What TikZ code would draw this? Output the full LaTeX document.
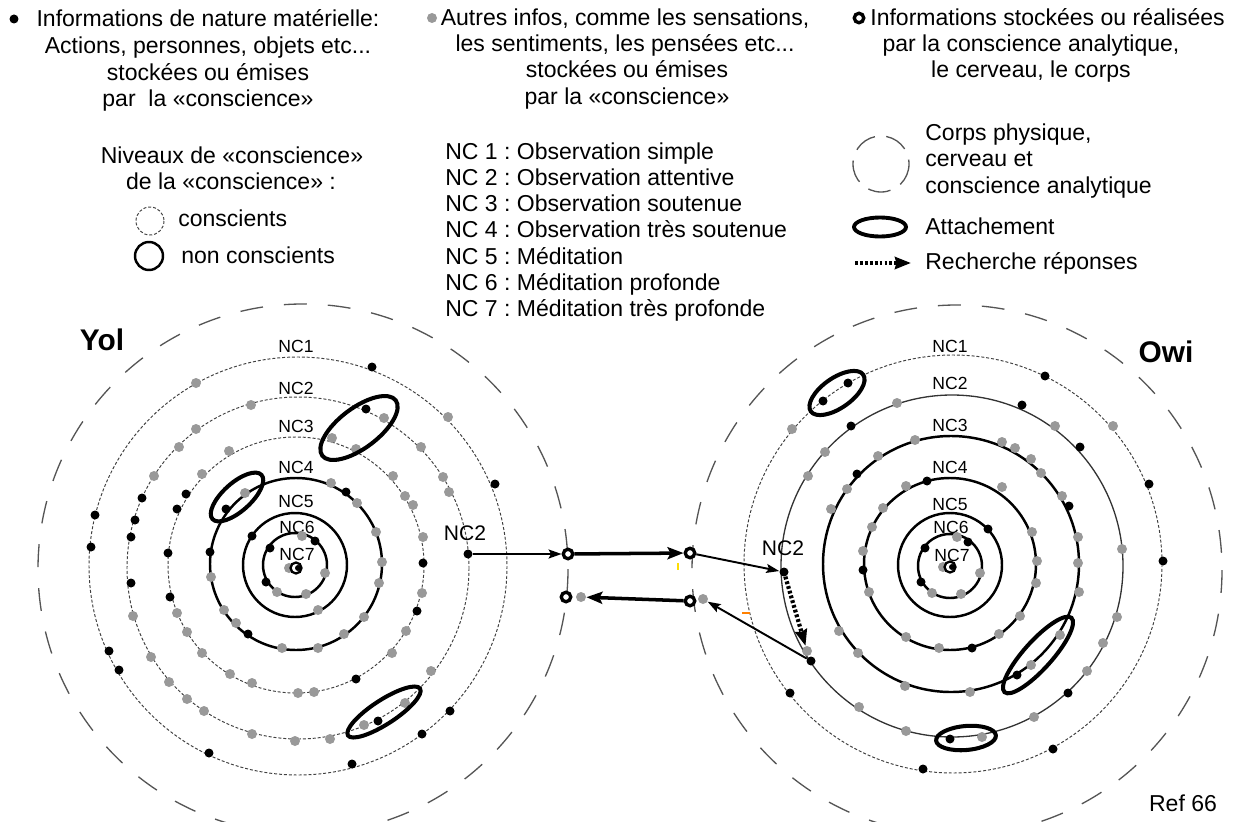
\documentclass[tikz,border=0pt]{standalone}
\usepackage{fontspec}
\setmainfont{Liberation Sans}
\usetikzlibrary{arrows.meta}
\definecolor{dotgray}{HTML}{999999}
\definecolor{linegray}{HTML}{404040}
\definecolor{bodygray}{HTML}{555555}
\newcommand\mainsz{\fontsize{13.1}{15}\selectfont}
\newcommand\levsz{\fontsize{10}{11}\selectfont}
\frenchspacing
\begin{document}
\begin{tikzpicture}[x=0.02cm, y=-0.02cm,
  txt/.style={inner sep=0pt, anchor=base, font=\mainsz},
  lev/.style={inner sep=0pt, font=\levsz},
  bdot/.style={circle, fill=black, inner sep=0pt, minimum size=0.18cm},
  gdot/.style={circle, fill=dotgray, inner sep=0pt, minimum size=0.2cm},
  ring/.style={circle, draw=black, fill=white, line width=1.9pt, inner sep=0pt, minimum size=0.19cm},
  lvdot/.style={draw=linegray, line width=0.55pt, dash pattern=on 1.7pt off 1.1pt},
  lvthin/.style={draw=black!80, line width=0.75pt},
  lvthick/.style={draw=black, line width=1.4pt},
  body/.style={draw=bodygray, line width=0.75pt, dash pattern=on 13pt off 12pt},
  attach/.style={draw=black, line width=2.3pt},
  thinarrow/.style={-{Stealth[length=0.26cm, width=0.18cm, inset=0.05cm]}, line width=1.1pt},
  thickarrow/.style={-{Stealth[length=0.32cm, width=0.24cm, inset=0.06cm]}, line width=2pt},
  search/.style={-{Stealth[length=0.32cm, width=0.24cm, inset=0.03cm]}, line width=2.4pt, dash pattern=on 1.6pt off 1.2pt},
]
\useasboundingbox (0,0) rectangle (1250,821);

% ---------- bodies (physical body, brain, analytic consciousness) ----------
\draw[body] (303,569) circle[radius=265];
\draw[body] (957,570) circle[radius=265];

% ---------- levels of consciousness: Yol ----------
\draw[lvdot]   (298,566) circle[radius=209];
\draw[lvdot]   (298,568) circle[radius=171];
\draw[lvdot]   (296,565) circle[radius=128];
\draw[lvthick] (296,564) circle[radius=86];
\draw[lvthick] (295,565) circle[radius=52];
\draw[lvthick] (295,565) circle[radius=32];

% ---------- levels of consciousness: Owi ----------
\draw[lvdot]   (953,564) circle[radius=209];
\draw[lvthin]  (952,566) circle[radius=171];
\draw[lvthick] (951,564) circle[radius=128];
\draw[lvthick] (950,564) circle[radius=86];
\draw[lvthick] (950,565) circle[radius=52];
\draw[lvthick] (950,566) circle[radius=32];

% level labels
\foreach \t/\x/\y [count=\i] in {NC1/296/346, NC2/296/388, NC3/296/426, NC4/296/467,
                                  NC5/296/501, NC6/297/527, NC7/297/554}
  \node[lev] (yl\i) at (\x,\y) {\t};
\foreach \t/\x/\y [count=\i] in {NC1/950/346, NC2/950/383, NC3/950/425, NC4/950/467,
                                  NC5/950/504, NC6/951/527, NC7/952/555}
  \node[lev] (ol\i) at (\x,\y) {\t};

% ---------- Yol: material information (black) ----------
\foreach \x/\y [count=\i] in {372/367, 495/484, 450/711, 422/734, 352/764, 209/753,
    119/670, 109/651, 91/547, 95/515,
    366/409, 378/721, 142/498, 135/520, 131/537, 131/583,
    186/494, 177/509, 168/553, 170/597, 423/563, 417/611, 356/679,
    226/509, 210/552, 346/492, 248/634,
    252/536,
    315/541, 270/548, 266/582}
  \node[bdot] (yb\i) at (\x,\y) {};

% ---------- Yol: other information (grey) ----------
\foreach \x/\y [count=\i] in {196/383, 448/417,
    251/405, 196/429, 179/447, 154/476, 384/418, 421/447, 443/477, 449/492,
    133/616, 151/657, 169/682, 187/699, 204/711, 252/734, 295/741, 330/739,
    364/725, 405/703, 431/671,
    229/451, 202/474, 332/438, 356/449, 393/476, 405/496, 413/505, 423/537,
    177/613, 187/632, 202/653, 230/674, 252/683, 298/693, 314/692, 422/593,
    406/631, 392/653,
    245/493, 211/577, 331/483, 357/503, 376/532, 382/562, 379/583, 364/617,
    344/634, 318/648, 282/648, 236/623, 224/610,
    318/610,
    302/536, 325/573, 306/594, 277/592}
  \node[gdot] (yg\i) at (\x,\y) {};

% ---------- Owi: material information (black) ----------
\foreach \x/\y [count=\i] in {848/383, 823/401, 1045/376, 1149/484, 1163/561, 1053/749,
    923/769, 790/693,
    851/426, 1022/405, 1080/447, 1068/693, 950/739,
    857/474, 1069/506, 1017/675,
    927/481, 863/570, 972/648,
    988/529,
    968/542, 925/548, 921/582}
  \node[bdot] (ob\i) at (\x,\y) {};

% ---------- Owi: other information (grey) ----------
\foreach \x/\y [count=\i] in {792/429, 1113/426,
    897/403, 825/452, 808/476, 1055/426, 1122/549, 1117/617, 1103/643, 1087/671,
    1034/717, 982/737, 906/731, 859/707,
    915/440, 878/456, 847/489, 831/509, 1002/442, 1015/448, 1031/459, 1041/473,
    1062/496, 1078/537, 1078/563, 1079/592, 1060/635, 1031/665, 970/692, 905/686,
    858/653, 839/631,
    906/486, 883/508, 872/527, 863/551, 869/592, 906/637, 939/648, 999/634,
    1020/616, 1036/583, 1037/561, 1032/532, 1002/487,
    957/537, 980/573, 961/594, 932/593}
  \node[gdot] (og\i) at (\x,\y) {};

% dots used by the exchange arrows
\node[bdot] (srcL) at (468,554) {};
\node[bdot] (tgtR) at (784,572) {};
\node[gdot] (ansR) at (807,651) {};
\node[bdot] (backR) at (811,661) {};

% ---------- centre of each person (NC7) ----------
\node[gdot] (ycg) at (289,568) {};
\node[circle, draw=black, fill=white, line width=1.3pt, inner sep=0pt, minimum size=0.22cm] (yc) at (296,568) {};
\fill[black] (298,568) circle[radius=3];
\node[gdot] (ocg) at (943,567) {};
\node[circle, draw=black, fill=white, line width=1.3pt, inner sep=0pt, minimum size=0.22cm] (oc) at (950,567) {};
\fill[black] (952,567) circle[radius=3];

% ---------- attachments ----------
\draw[attach, rotate around={42:(237,497)}] (237,497) ellipse[x radius=33, y radius=14];
\draw[attach, rotate around={37:(359,428)}] (359,428) ellipse[x radius=46, y radius=20];
\draw[attach, rotate around={33:(384,712)}] (384,712) ellipse[x radius=43, y radius=12];
\draw[attach, rotate around={35:(837,393)}] (837,393) ellipse[x radius=32, y radius=15];
\draw[attach, rotate around={48:(1038,655)}] (1038,655) ellipse[x radius=50, y radius=14];
\draw[attach, rotate around={5:(966,738)}] (966,738) ellipse[x radius=30, y radius=12];

% ---------- exchange between Yol and Owi ----------
\node[ring] (r1) at (568,554) {};
\node[ring] (r2) at (690,553) {};
\node[ring] (r3) at (566,597) {};
\node[gdot] (g3) at (581,597) {};
\node[ring] (r4) at (690,601) {};
\node[gdot] (g4) at (703,599) {};

\node[inner sep=0pt, font=\fontsize{12}{14}\selectfont] (ncL) at (465,533) {NC2};
\node[inner sep=0pt, font=\fontsize{12}{14}\selectfont] (ncR) at (783,548) {NC2};

\draw[thinarrow]  (srcL) -- (r1);
\draw[thickarrow] (r1) -- (r2);
\draw[thinarrow]  (r2) -- (tgtR);
\draw[search]     (tgtR) -- (ansR);
\draw[thinarrow]  (backR) -- (g4);
\draw[thickarrow] (r4) -- (g3);

\draw[yellow!80!orange, line width=0.6pt] (678,563) -- (678,570);
\draw[orange, line width=0.6pt] (742,613) -- (750,613);

% ---------- names ----------
\node[inner sep=0pt, font=\fontsize{17}{20}\selectfont\bfseries] (yol) at (102,340) {Yol};
\node[inner sep=0pt, font=\fontsize{17}{20}\selectfont\bfseries] (owi) at (1166,352) {Owi};
\node[inner sep=0pt, font=\mainsz] (ref) at (1183,803) {Ref 66};

% ---------- legend: material information ----------
\node[bdot] (lgdot) at (14,19) {};
\node[txt] (lg1) at (208,27)  {Informations de nature matérielle:};
\node[txt] (lg2) at (208,54)  {Actions, personnes, objets etc...};
\node[txt] (lg3) at (208,81)  {stockées ou émises};
\node[txt] (lg4) at (208,107) {par~ la «conscience»};

\node[txt] (nv1) at (232,163) {Niveaux de «conscience»};
\node[txt] (nv2) at (231,189) {de la «conscience» :};
\draw[lvdot] (150,221) circle[radius=14];
\node[txt, anchor=base west] (nv3) at (178,226) {conscients};
\draw[black, line width=1.4pt] (149,256) circle[radius=14];
\node[txt, anchor=base west] (nv4) at (181,263) {non conscients};

% ---------- legend: other information ----------
\node[gdot] (mgdot) at (432,18) {};
\node[txt] (mg1) at (625,26)  {Autres infos, comme les sensations,};
\node[txt] (mg2) at (625,52)  {les sentiments, les pensées etc...};
\node[txt] (mg3) at (627,78)  {stockées ou émises};
\node[txt] (mg4) at (627,105) {par la «conscience»};

\node[txt, anchor=base west] (nc1) at (445,159)   {NC 1 : Observation simple};
\node[txt, anchor=base west] (nc2) at (445,185.3) {NC 2 : Observation attentive};
\node[txt, anchor=base west] (nc3) at (445,211.6) {NC 3 : Observation soutenue};
\node[txt, anchor=base west] (nc4) at (445,237.9) {NC 4 : Observation très soutenue};
\node[txt, anchor=base west] (nc5) at (445,264.2) {NC 5 : Méditation};
\node[txt, anchor=base west] (nc6) at (445,290.5) {NC 6 : Méditation profonde};
\node[txt, anchor=base west] (nc7) at (445,316.8) {NC 7 : Méditation très profonde};

% ---------- legend: analytic information ----------
\node[ring] (rgring) at (859,18) {};
\node[txt, anchor=base west] (rg1) at (870,26) {Informations stockées ou réalisées};
\node[txt] (rg2) at (1031,52) {par la conscience analytique,};
\node[txt] (rg3) at (1031,78) {le cerveau, le corps};

\draw[draw=bodygray, line width=0.75pt, dash pattern=on 13pt off 6.5pt] (881,164) circle[radius=28];
\node[txt, anchor=base west] (k1) at (925,140) {Corps physique,};
\node[txt, anchor=base west] (k2) at (925,166) {cerveau et};
\node[txt, anchor=base west] (k3) at (925,193) {conscience analytique};
\draw[attach, line width=2.2pt] (880,227) ellipse[x radius=26, y radius=9.5];
\node[txt, anchor=base west] (k4) at (925,234) {Attachement};
\coordinate (ka) at (855,263);
\coordinate (kb) at (911,263);
\draw[search] (ka) -- (kb);
\node[txt, anchor=base west] (k5) at (925,269) {Recherche réponses};
\end{tikzpicture}
\end{document}
